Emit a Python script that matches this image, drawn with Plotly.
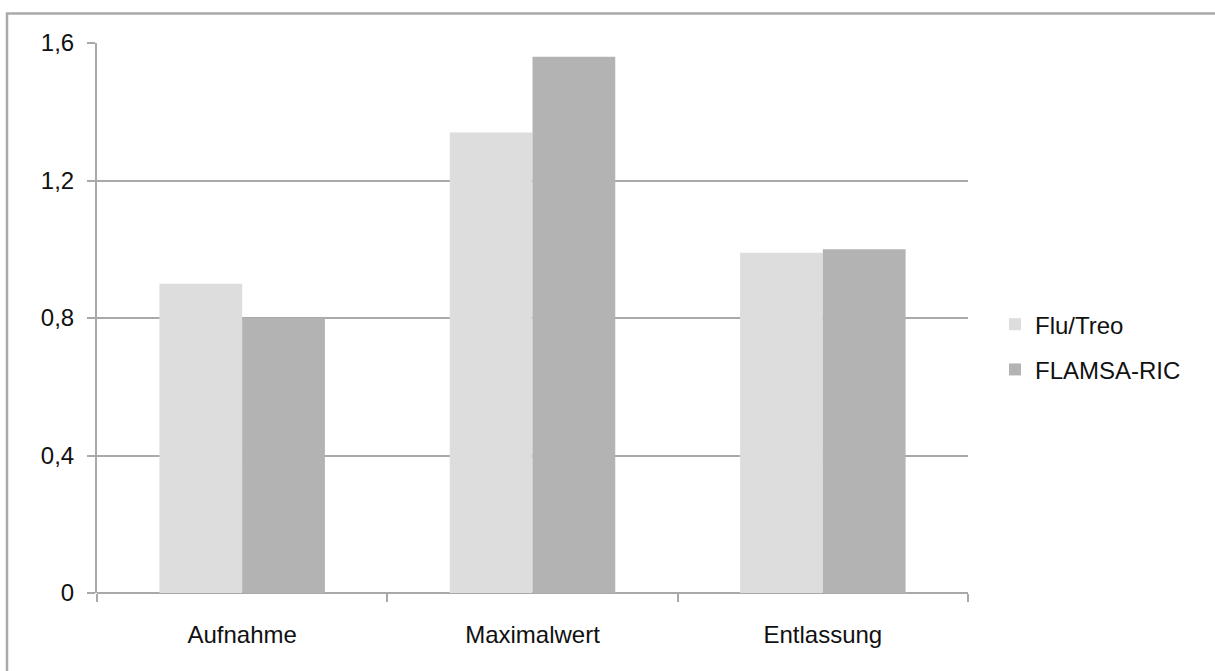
import plotly.graph_objects as go

categories = ["Aufnahme", "Maximalwert", "Entlassung"]
flu_treo = [0.90, 1.34, 0.99]
flamsa_ric = [0.80, 1.56, 1.00]
y_ticks = [0, 0.4, 0.8, 1.2, 1.6]
y_tick_labels = ["0", "0,4", "0,8", "1,2", "1,6"]

FONT = "Liberation Sans, Arial, Helvetica, sans-serif"
GRID = "#a9a9a9"

fig = go.Figure()
fig.add_trace(go.Bar(name="Flu/Treo", x=categories, y=flu_treo, legendgroup="a",
                     marker=dict(color="#dddddd", line=dict(width=0))))
fig.add_trace(go.Bar(name="FLAMSA-RIC", x=categories, y=flamsa_ric, legendgroup="b",
                     marker=dict(color="#b3b3b3", line=dict(width=0))))

W, H = 1215, 671
L, R, T, B = 97, 247, 42.5, 77.7
pw, ph = W - L - R, H - T - B

def px(x):
    return (x - L) / pw

def py(y):
    return (H - B - y) / ph

# outer frame (top and left edges visible)
fig.add_shape(type="rect", xref="paper", yref="paper",
              x0=px(7), x1=px(W + 20), y0=py(H + 20), y1=py(13),
              line=dict(color="#aaaaaa", width=2.5), fillcolor="rgba(0,0,0,0)",
              layer="below")

fig.update_layout(
    width=W, height=H,
    margin=dict(l=L, r=R, t=T, b=B, pad=0),
    paper_bgcolor="white", plot_bgcolor="white",
    barmode="group", bargap=0.43, bargroupgap=0,
    font=dict(family=FONT, size=24, color="#111111"),
    showlegend=True,
    legend=dict(x=px(995), y=py(302), xanchor="left", yanchor="top",
                font=dict(size=24, family=FONT, color="#111111"),
                bgcolor="rgba(0,0,0,0)", traceorder="grouped",
                tracegroupgap=11, itemwidth=30),
    xaxis=dict(showgrid=False, ticks="outside", tickson="boundaries",
               ticklen=8, tickcolor=GRID, tickwidth=2,
               showline=False, zeroline=False, ticklabelstandoff=25,
               tickfont=dict(size=24, family=FONT, color="#111111")),
    yaxis=dict(range=[0, 1.6], tickvals=y_ticks, ticktext=y_tick_labels,
               showgrid=True, gridcolor=GRID, gridwidth=2,
               ticks="outside", ticklen=8, tickcolor=GRID, tickwidth=2,
               showline=True, linecolor=GRID, linewidth=2,
               zeroline=True, zerolinecolor=GRID, zerolinewidth=2,
               ticklabelstandoff=8,
               tickfont=dict(size=24, family=FONT, color="#111111")),
)

fig.write_html("out.html")
